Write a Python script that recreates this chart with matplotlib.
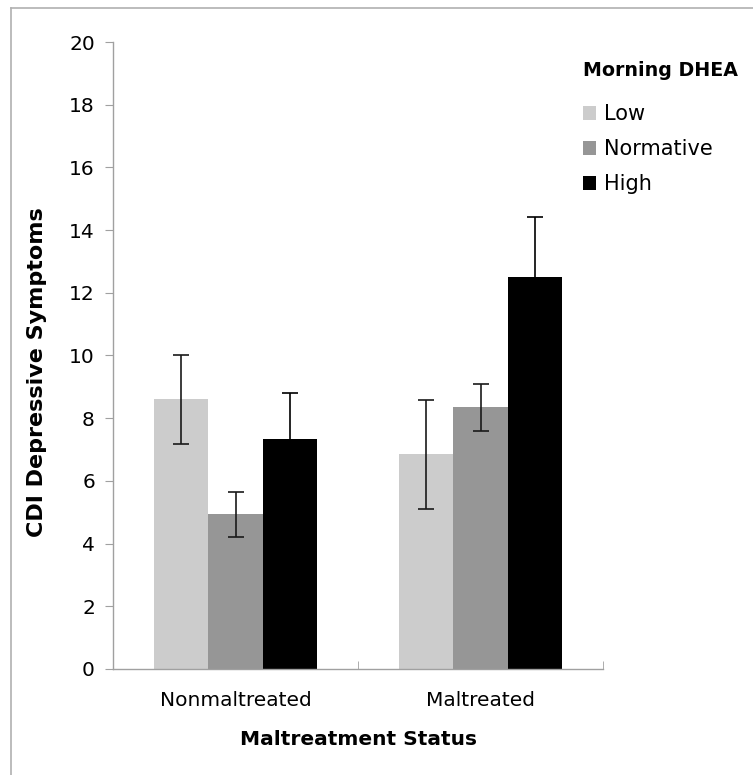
import numpy as np
import matplotlib
matplotlib.use("Agg")
import matplotlib.pyplot as plt
from matplotlib.lines import Line2D

# data
groups = ["Nonmaltreated", "Maltreated"]
levels = ["Low", "Normative", "High"]
means_low = [8.6, 6.85]
means_norm = [4.93, 8.35]
means_high = [7.33, 12.5]
err_low = [1.42, 1.74]
err_norm = [0.73, 0.75]
err_high = [1.46, 1.92]
colors = ["#cccccc", "#969696", "#000000"]
err_colors = ["#1a1a1a", "#1a1a1a", "#000000"]

plt.rcParams["font.family"] = "DejaVu Sans"

fig = plt.figure(figsize=(7.53, 7.75), dpi=100)
ax = fig.add_axes([0.150, 0.1368, 0.651, 0.809])

x = np.arange(len(groups))
w = 0.222
series = [(means_low, err_low), (means_norm, err_norm), (means_high, err_high)]
for i, (m, e) in enumerate(series):
    pos = x + (i - 1) * w
    ax.bar(pos, m, width=w, color=colors[i], label=levels[i], zorder=2)
    ax.errorbar(pos, m, yerr=e, fmt="none", ecolor=err_colors[i], elinewidth=1.2,
                capsize=6, capthick=1.2, zorder=3)

ax.set_xlim(-0.5, 1.5)
ax.set_ylim(0, 20)
ax.set_yticks(np.arange(0, 21, 2))
ax.set_xticks(x)
ax.set_xticklabels(groups)
ax.set_xticks([-0.5, 0.5, 1.5], minor=True)
ax.tick_params(axis="x", which="major", length=0, labelsize=14.5, pad=16)
ax.tick_params(axis="x", which="minor", length=6, color="#a0a0a0", direction="in")
ax.tick_params(axis="y", length=6, color="#a0a0a0", labelsize=14.5, pad=7)

for s in ["top", "right"]:
    ax.spines[s].set_visible(False)
for s in ["left", "bottom"]:
    ax.spines[s].set_color("#a0a0a0")
    ax.spines[s].set_linewidth(1)

ax.set_ylabel("CDI Depressive Symptoms", fontsize=16, fontweight="bold")
ax.yaxis.set_label_coords(-0.135, 0.474)
ax.set_xlabel("Maltreatment Status", fontsize=14.5, fontweight="bold", va="top")
ax.xaxis.set_label_coords(0.5, -0.097)

leg = ax.legend(loc="upper left", bbox_to_anchor=(0.749, 0.945), bbox_transform=fig.transFigure,
                frameon=False, fontsize=15, title="Morning DHEA",
                title_fontproperties={"weight": "bold", "size": 13.7},
                handlelength=0.65, handleheight=0.65, handletextpad=0.35,
                labelspacing=0.72, alignment="left")
leg._legend_box.sep = 17

# grey frame on top and left edge, as in the source image
fig.add_artist(Line2D([11/753, 11/753], [0, 1 - 8/775], color="#b0b0b0", lw=1.2))
fig.add_artist(Line2D([11/753, 1], [1 - 8/775, 1 - 8/775], color="#b0b0b0", lw=1.2))

fig.savefig("out.png", dpi=100, facecolor="white")
